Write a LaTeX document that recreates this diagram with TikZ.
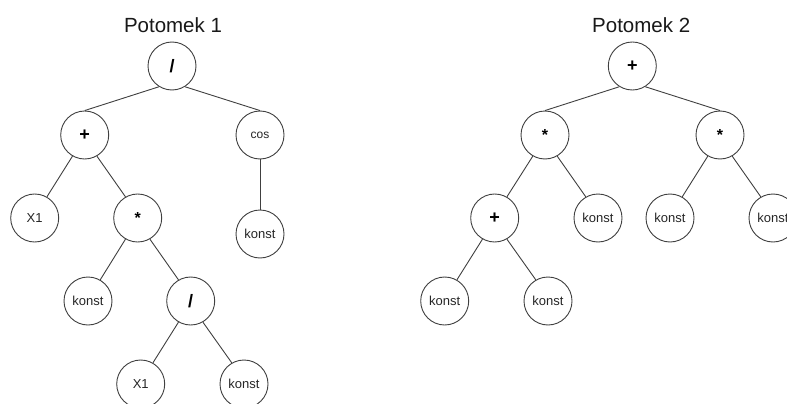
\documentclass[tikz,border=0pt]{standalone}
\usepackage{fontspec}
\setmainfont{Liberation Sans}
\begin{document}
\begin{tikzpicture}[x=1pt,y=-1pt,
  vertex/.style={circle,draw=black!75,line width=0.9pt,minimum size=48pt,inner sep=0pt,
    font=\fontsize{13}{13}\selectfont,text=black!85},
  op/.style={vertex,font=\bfseries\fontsize{18}{18}\selectfont,text=black},
  star/.style={vertex,font=\bfseries\fontsize{16}{16}\selectfont,text=black},
  small/.style={vertex,font=\fontsize{12}{12}\selectfont},
  edge/.style={draw=black!75,line width=0.9pt},
  heading/.style={anchor=base,font=\fontsize{20.5}{20.5}\selectfont,text=black!90}]
\clip (0,0) rectangle (787,404);
\fill[white] (0,0) rectangle (787,404);

% first offspring
\node[heading] (t1) at (173,32.3) {Potomek 1};
\node[op]     (r1) at (172,66)    {/};
\node[op]     (a1) at (84.7,135)  {+};
\node[small]  (b1) at (260,135)   {cos};
\node[vertex] (c1) at (34.7,218)  {X1};
\node[star]   (d1) at (137.7,218) {*};
\node[vertex] (e1) at (260,234)   {konst};
\node[vertex] (f1) at (88,301)    {konst};
\node[op]     (g1) at (190.7,301) {/};
\node[vertex] (h1) at (140.7,384) {X1};
\node[vertex] (i1) at (244,384)   {konst};

\draw[edge] (r1.238) -- (a1.north);
\draw[edge] (r1.302) -- (b1.north);
\draw[edge] (a1.240) -- (c1.60);
\draw[edge] (a1.300) -- (d1.120);
\draw[edge] (b1.south) -- (e1.north);
\draw[edge] (d1.240) -- (f1.60);
\draw[edge] (d1.300) -- (g1.120);
\draw[edge] (g1.240) -- (h1.60);
\draw[edge] (g1.300) -- (i1.120);

% second offspring
\node[heading] (t2) at (641.2,32.3) {Potomek 2};
\node[op]     (r2) at (632.3,66)  {+};
\node[star]   (a2) at (545,135)   {*};
\node[star]   (b2) at (720,135)   {*};
\node[op]     (c2) at (494.7,218) {+};
\node[vertex] (d2) at (598,218)   {konst};
\node[vertex] (e2) at (670,218)   {konst};
\node[vertex] (f2) at (773,218)   {konst};
\node[vertex] (g2) at (444.7,301) {konst};
\node[vertex] (h2) at (548,301)   {konst};

\draw[edge] (r2.238) -- (a2.north);
\draw[edge] (r2.302) -- (b2.north);
\draw[edge] (a2.240) -- (c2.60);
\draw[edge] (a2.300) -- (d2.120);
\draw[edge] (b2.240) -- (e2.60);
\draw[edge] (b2.300) -- (f2.120);
\draw[edge] (c2.240) -- (g2.60);
\draw[edge] (c2.300) -- (h2.120);
\end{tikzpicture}
\end{document}
